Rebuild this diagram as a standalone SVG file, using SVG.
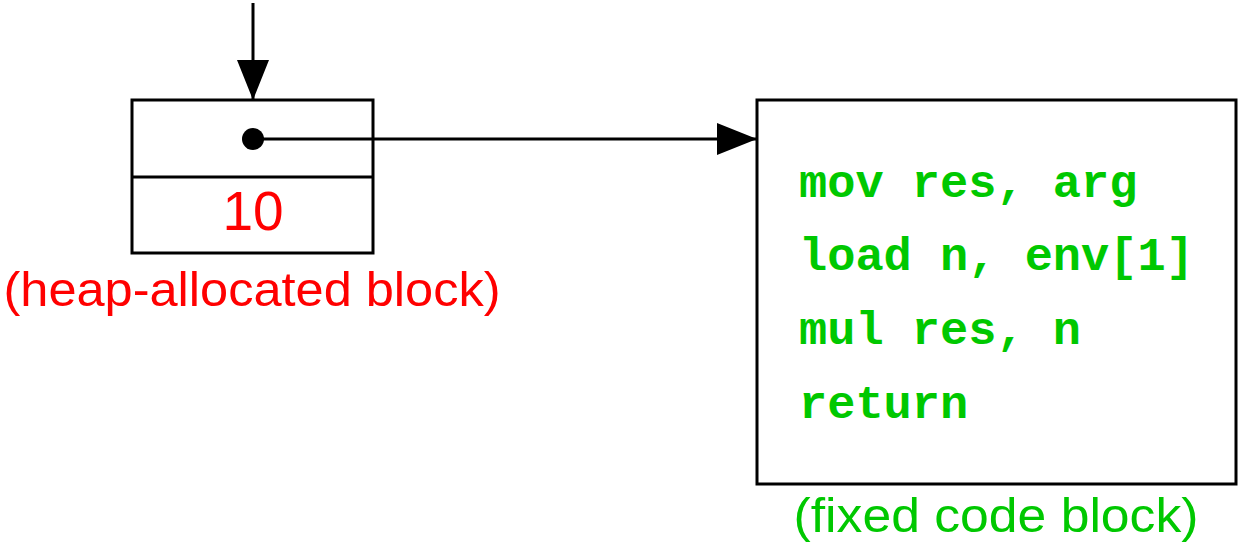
<svg xmlns="http://www.w3.org/2000/svg" width="1239" height="544" viewBox="0 0 1239 544">
<defs>
<style>
.box{fill:#fff;stroke:#000;stroke-width:3}
.ln{stroke:#000;stroke-width:3;fill:none}
.code{font-family:"Liberation Mono",monospace;font-weight:bold;font-size:47px;fill:#00c800}
.lbl{font-family:"Liberation Sans",sans-serif;font-size:48px}
</style>
<marker id="ah" viewBox="0 0 40 32" refX="40" refY="16" markerWidth="40" markerHeight="32" markerUnits="userSpaceOnUse" orient="auto">
<path d="M0,0 L40,16 L0,32 Z" fill="#000"/>
</marker>
</defs>
<g id="heap-block">
<rect class="box" x="132" y="100" width="241" height="153"/>
<line class="ln" x1="132" y1="177" x2="373" y2="177"/>
<text x="253" y="230" text-anchor="middle" style="font-family:'Liberation Sans',sans-serif;font-size:55px;fill:#f00">10</text>
<text class="lbl" x="252" y="306" text-anchor="middle" fill="#f00" textLength="497" lengthAdjust="spacingAndGlyphs">(heap-allocated block)</text>
</g>
<g id="code-block">
<rect class="box" x="757" y="100" width="479" height="384"/>
<text class="code" x="799" y="197">mov res, arg</text>
<text class="code" x="799" y="270">load n, env[1]</text>
<text class="code" x="799" y="344">mul res, n</text>
<text class="code" x="799" y="418">return</text>
<text class="lbl" x="996" y="532" text-anchor="middle" fill="#00c800" textLength="405" lengthAdjust="spacingAndGlyphs">(fixed code block)</text>
</g>
<g id="connectors">
<line class="ln" x1="253" y1="3" x2="253" y2="100" marker-end="url(#ah)"/>
<line class="ln" x1="253" y1="139" x2="757" y2="139" marker-end="url(#ah)"/>
<circle cx="253" cy="139" r="11" fill="#000"/>
</g>
</svg>
